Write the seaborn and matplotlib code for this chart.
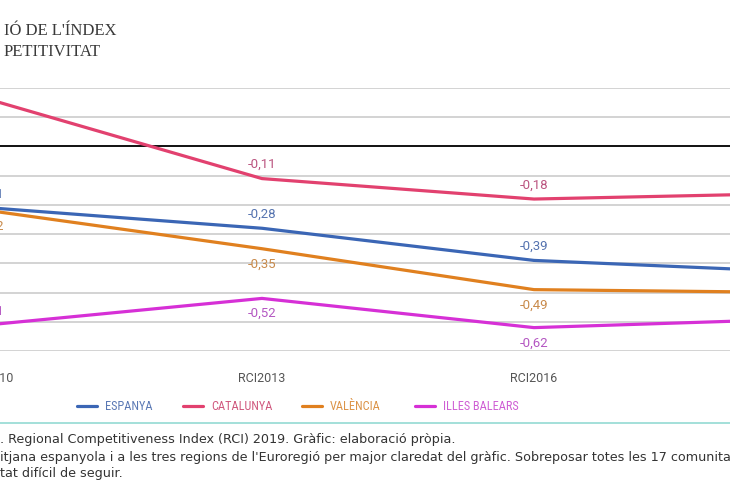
import matplotlib
matplotlib.use("Agg")
import matplotlib.pyplot as plt
import seaborn as sns
import pandas as pd
from matplotlib.lines import Line2D

# ---------------- data ----------------
editions = ["RCI2010", "RCI2013", "RCI2016", "RCI2019"]
regions = ["ESPANYA", "CATALUNYA", "VALÈNCIA", "ILLES BALEARS"]
espanya = [-0.21, -0.28, -0.39, -0.43]
catalunya = [0.16, -0.11, -0.18, -0.16]
valencia = [-0.22, -0.35, -0.49, -0.50]
balears = [-0.61, -0.52, -0.62, -0.59]
grid_values = [0.2, 0.1, 0.0, -0.1, -0.2, -0.3, -0.4, -0.5, -0.6, -0.7]

title_lines = ["IÓ DE L'ÍNDEX", "PETITIVITAT"]
footnotes = [
    ". Regional Competitiveness Index (RCI) 2019. Gràfic: elaboració pròpia.",
    "itjana espanyola i a les tres regions de l'Euroregió per major claredat del gràfic. Sobreposar totes les 17 comunita",
    "tat difícil de seguir.",
]

line_colors = ["#3b66b5", "#e2416f", "#e0801f", "#d630d6"]
label_colors = ["#5674b0", "#bb5580", "#c98b4c", "#b457c2"]
legend_text_colors = ["#5a78b4", "#d0587e", "#dc9448", "#cf5fd4"]

series = [espanya, catalunya, valencia, balears]
df = pd.DataFrame(
    [(e, r, v) for r, vals in zip(regions, series) for e, v in zip(editions, vals)],
    columns=["edition", "region", "value"],
)

# ---------------- figure ----------------
sns.set_theme(style="white")
plt.rcParams["font.family"] = ["Roboto", "DejaVu Sans"]
cond = ["Roboto Condensed", "Liberation Sans Narrow", "Roboto", "DejaVu Sans"]

W, H = 730, 500
fig = plt.figure(figsize=(7.3, 5.0), dpi=100)
# axes wider than the figure, reproducing the cropped view
ax = fig.add_axes([-0.1255, 0.298, 1.3414, 0.526])

sns.lineplot(
    data=df, x="edition", y="value", hue="region", hue_order=regions,
    palette=dict(zip(regions, line_colors)), linewidth=2.3, ax=ax,
    legend=False, sort=False,
)

ax.set_xlim(-0.3, 3.3)
ax.set_ylim(-0.7, 0.2)
ax.set_yticks(grid_values)
ax.set_yticklabels([])
ax.tick_params(axis="y", length=0)
ax.tick_params(axis="x", length=0, pad=15, labelsize=9, labelcolor="#555555")
ax.set_xlabel("")
ax.set_ylabel("")
for s in ax.spines.values():
    s.set_visible(False)

for gv in grid_values:
    if gv == 0.0:
        ax.axhline(gv, color="#111111", lw=1.4, zorder=1)
    else:
        ax.axhline(gv, color="#cccccc", lw=1.2, zorder=1)

# value labels (the CATALUNYA 2010 label is not shown in the cropped view)
above_regions = {"ESPANYA", "CATALUNYA"}
for r, vals, c in zip(regions, series, label_colors):
    for i, v in enumerate(vals):
        if r == "CATALUNYA" and i == 0:
            continue
        above = r in above_regions or (r == "ILLES BALEARS" and i == 0)
        ax.annotate(
            f"{v:.2f}".replace(".", ","), (i, v),
            xytext=(0, 10 if above else -11), textcoords="offset points",
            ha="center", va="center", fontsize=9.5, color=c,
            annotation_clip=False,
        )

# title (cropped fragment)
for txt, ypx in zip(title_lines, [31, 52.5]):
    fig.text(4 / W, 1 - ypx / H, txt, family=["Liberation Serif", "DejaVu Serif"],
             fontsize=12, color="#3a3a3a", va="center", ha="left")

# legend, laid out as in the reference
legend_x = [77, 183, 302, 415]
legend_y = 1 - 406 / H
for xpx, name, lc, tc in zip(legend_x, regions, line_colors, legend_text_colors):
    fig.add_artist(Line2D([xpx / W, (xpx + 20) / W], [legend_y, legend_y],
                          transform=fig.transFigure, color=lc, lw=2.3))
    fig.text((xpx + 28) / W, legend_y, name, family=cond, fontsize=8.8,
             color=tc, va="center", ha="left")

# separator line
fig.add_artist(Line2D([0, 1], [1 - 423 / H] * 2, transform=fig.transFigure,
                      color="#a3e0d9", lw=1.4))

# footnotes
for txt, ypx in zip(footnotes, [440, 457, 473]):
    fig.text(0.0, 1 - ypx / H, txt, fontsize=9.2, color="#333333",
             family=["DejaVu Sans"], va="center", ha="left")

fig.savefig("out.png", dpi=100)
